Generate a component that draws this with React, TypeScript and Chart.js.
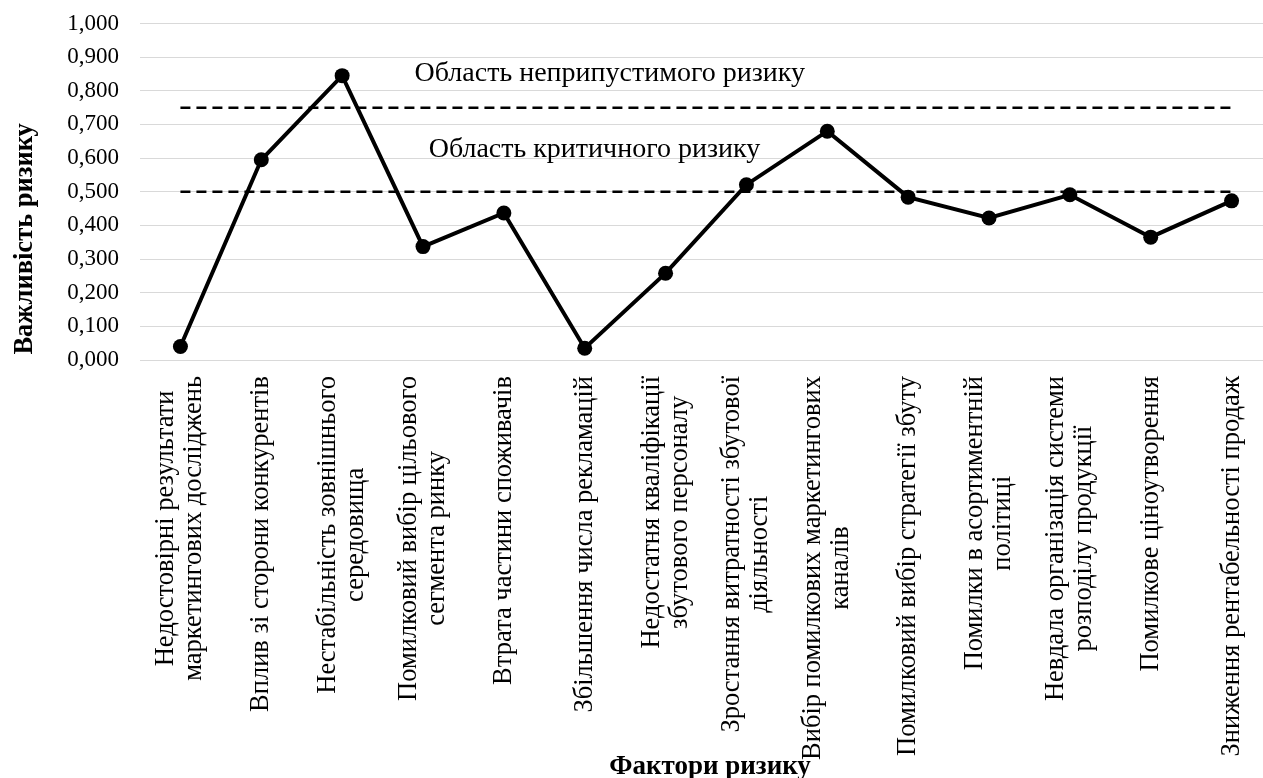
import React, { useEffect, useRef } from "react";
import { Chart, registerables } from "chart.js";

Chart.register(...registerables);

// Risk factors (each entry is one axis label, split into its lines)
const factorLabels: string[][] = [
  ["Недостовірні результати", "маркетингових досліджень"],
  ["Вплив зі сторони конкурентів"],
  ["Нестабільність зовнішнього", "середовища"],
  ["Помилковий вибір цільового", "сегмента ринку"],
  ["Втрата частини споживачів"],
  ["Збільшення числа рекламацій"],
  ["Недостатня кваліфікації", "збутового персоналу"],
  ["Зростання витратності збутової", "діяльності"],
  ["Вибір помилкових маркетингових", "каналів"],
  ["Помилковий вибір стратегії збуту"],
  ["Помилки в асортиментній", "політиці"],
  ["Невдала організація системи", "розподілу продукції"],
  ["Помилкове ціноутворення"],
  ["Зниження рентабельності продаж"],
];

// Importance of each risk factor
const riskImportance: number[] = [
  0.04, 0.595, 0.845, 0.337, 0.437, 0.035, 0.258, 0.521, 0.68, 0.484, 0.422,
  0.491, 0.365, 0.473,
];

// Threshold levels of the risk zones
const unacceptableLevel = 0.75;
const criticalLevel = 0.5;

const yTicksMin = 0;
const yTicksMax = 1;
const yTicksStep = 0.1;

const yAxisTitle = "Важливість ризику";
const xAxisTitle = "Фактори ризику";
const unacceptableZoneText = "Область неприпустимого ризику";
const criticalZoneText = "Область критичного ризику";

const SERIF = '"Liberation Serif", "Times New Roman", serif';

const formatTick = (v: number) => v.toFixed(3).replace(".", ",");

// Draws the vertical category labels, the axis titles and the zone captions
const textPlugin = {
  id: "riskText",
  afterDraw(chart: any) {
    const ctx = chart.ctx as CanvasRenderingContext2D;
    const xs = chart.scales.x;
    const ys = chart.scales.y;
    const area = chart.chartArea;
    ctx.save();
    ctx.fillStyle = "#000";

    // category labels, rotated, lines centred on each other
    ctx.font = `26.5px ${SERIF}`;
    const lineH = 28;
    const top = area.bottom + 16;
    factorLabels.forEach((lines, i) => {
      const x = xs.getPixelForValue(i);
      const maxW = Math.max(...lines.map((l) => ctx.measureText(l).width));
      ctx.save();
      ctx.translate(x, top);
      ctx.rotate(-Math.PI / 2);
      ctx.textAlign = "center";
      ctx.textBaseline = "middle";
      lines.forEach((line, j) => {
        const off = (j - (lines.length - 1) / 2) * lineH;
        ctx.fillText(line, -maxW / 2, off);
      });
      ctx.restore();
    });

    // zone captions
    ctx.font = `28px ${SERIF}`;
    ctx.textAlign = "center";
    ctx.textBaseline = "middle";
    ctx.fillText(
      unacceptableZoneText,
      xs.getPixelForValue(5.31),
      ys.getPixelForValue(0.85)
    );
    ctx.fillText(
      criticalZoneText,
      xs.getPixelForValue(5.12),
      ys.getPixelForValue(0.625)
    );

    // axis titles
    ctx.font = `bold 26.5px ${SERIF}`;
    ctx.save();
    ctx.translate(25, ys.getPixelForValue(0.36));
    ctx.rotate(-Math.PI / 2);
    ctx.fillText(yAxisTitle, 0, 0);
    ctx.restore();

    ctx.font = `bold 27px ${SERIF}`;
    ctx.fillText(xAxisTitle, xs.getPixelForValue(6.55), 767);
    ctx.restore();
  },
};

export default function App() {
  const canvasRef = useRef<HTMLCanvasElement | null>(null);

  useEffect(() => {
    if (!canvasRef.current) return;
    const labels = factorLabels.map((l) => l.join(" "));
    const chart = new Chart(canvasRef.current, {
      type: "line",
      data: {
        labels,
        datasets: [
          {
            label: yAxisTitle,
            data: riskImportance,
            borderColor: "#000",
            backgroundColor: "#000",
            borderWidth: 4,
            pointRadius: 7.5,
            pointBorderWidth: 0,
            pointBackgroundColor: "#000",
            tension: 0,
          },
          {
            label: unacceptableZoneText,
            data: labels.map(() => unacceptableLevel),
            borderColor: "#000",
            borderWidth: 2.5,
            borderDash: [10, 6],
            pointRadius: 0,
          },
          {
            label: criticalZoneText,
            data: labels.map(() => criticalLevel),
            borderColor: "#000",
            borderWidth: 2.5,
            borderDash: [10, 6],
            pointRadius: 0,
          },
        ],
      },
      options: {
        responsive: false,
        animation: false,
        layout: {
          autoPadding: false,
          padding: { top: 23.5, left: 0, right: 0, bottom: 0 },
        },
        plugins: {
          legend: { display: false },
          tooltip: { enabled: false },
        },
        scales: {
          x: {
            offset: true,
            grid: { display: false },
            border: { display: false },
            ticks: { display: false },
            afterFit: (scale: any) => {
              scale.height = 418;
            },
          },
          y: {
            min: yTicksMin,
            max: yTicksMax,
            border: { display: false },
            grid: { color: "#d9d9d9", lineWidth: 1, drawTicks: false },
            ticks: {
              stepSize: yTicksStep,
              autoSkip: false,
              padding: 21,
              color: "#000",
              font: { family: SERIF, size: 23 },
              callback: (v: any) => formatTick(Number(v)),
            },
            afterFit: (scale: any) => {
              scale.width = 140;
              scale.paddingTop = 0;
              scale.paddingBottom = 0;
            },
          },
        },
      },
      plugins: [textPlugin],
    });
    return () => chart.destroy();
  }, []);

  return (
    <div
      style={{
        position: "fixed",
        left: 0,
        top: 0,
        width: 1263,
        height: 778,
        overflow: "hidden",
        background: "#fff",
      }}
    >
      <div style={{ width: 1272, height: 778 }}>
        <canvas
          ref={canvasRef}
          width={1272}
          height={778}
          style={{ width: 1272, height: 778, display: "block" }}
        />
      </div>
    </div>
  );
}
